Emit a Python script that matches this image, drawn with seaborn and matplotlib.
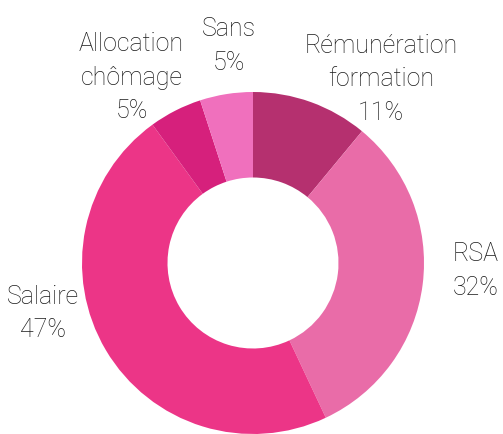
import matplotlib.pyplot as plt
import seaborn as sns

# share of income sources, drawn clockwise from the top
labels = ['Rémunération\nformation', 'RSA', 'Salaire', 'Allocation\nchômage', 'Sans']
values = [11, 32, 47, 5, 5]
colors = ['#b5306f', '#e96ca8', '#ec3587', '#d6207c', '#f070bd']

# where each label sits (data units, radius = 1)
label_pos = [(0.75, 1.08), (1.3, -0.04), (-1.23, -0.29), (-0.71, 1.09), (-0.14, 1.275)]

sns.set_theme(style='white')
plt.rcParams['font.family'] = ['Roboto', 'DejaVu Sans']

fig = plt.figure(figsize=(5.03, 4.35), dpi=100)
ax = fig.add_axes([0, 0, 1, 1])
ax.pie(values, colors=colors, startangle=90, counterclock=False,
       wedgeprops=dict(width=0.5, linewidth=0))
for lab, v, (x, y) in zip(labels, values, label_pos):
    ax.text(x, y, f'{lab}\n{v}%', ha='center', va='center',
            fontsize=18, fontweight='light', fontstretch='condensed',
            color='#1a1a1a', linespacing=1.5)
ax.set_xlim(-253 / 171, 250 / 171)
ax.set_ylim(-1.0, 264 / 171)
ax.set_aspect('equal')
ax.axis('off')
fig.savefig('out.png', dpi=100)
